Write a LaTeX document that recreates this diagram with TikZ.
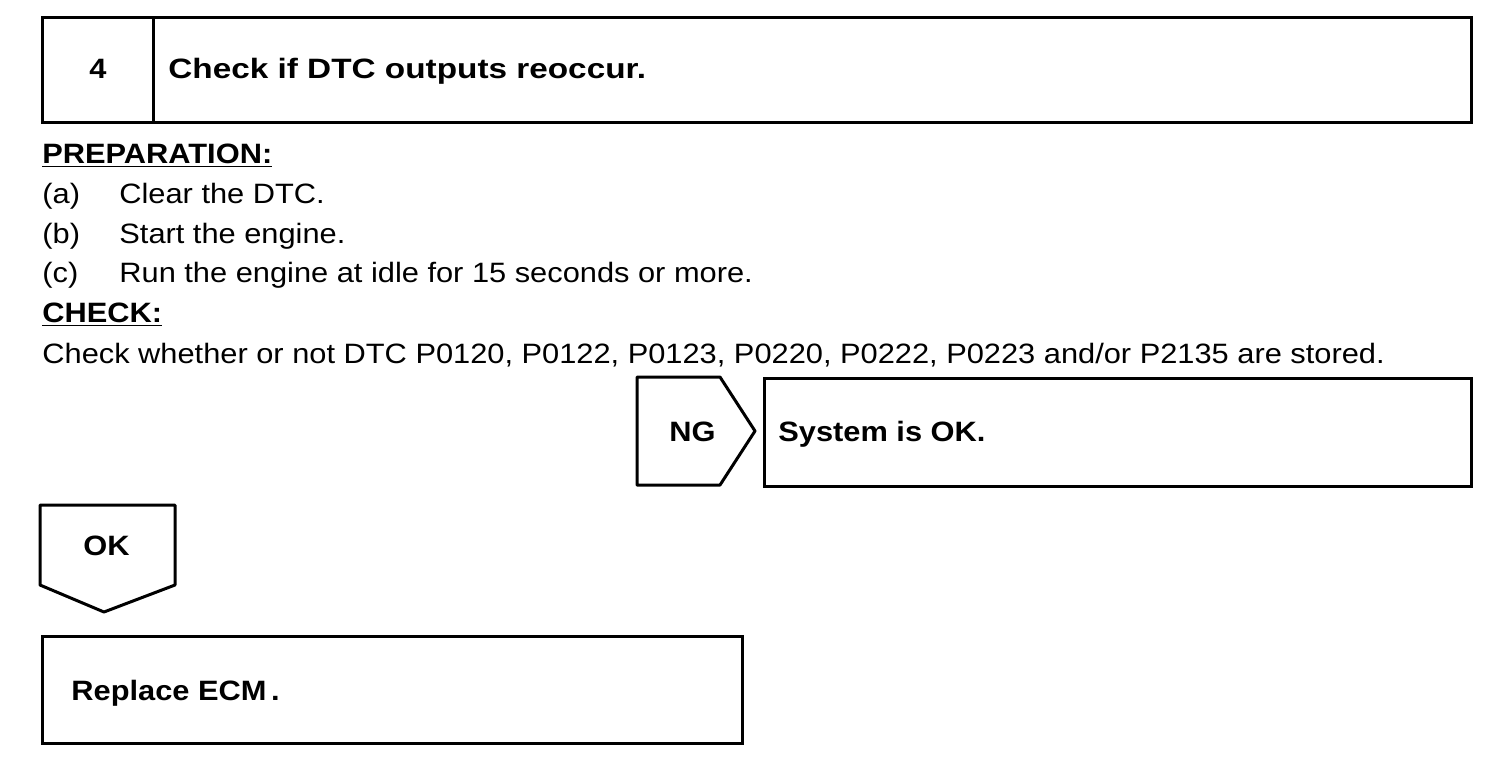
\documentclass[tikz,border=0pt]{standalone}
\usepackage{fontspec}
\setmainfont{Liberation Sans}[FakeStretch=1.1]
\newfontfamily\titlefont{Liberation Sans}[FakeStretch=1.19]
\usetikzlibrary{positioning}

\begin{document}
\begin{tikzpicture}[x=0.5pt,y=-0.5pt,
  frame/.style={draw,line width=1.5pt,inner sep=0pt,anchor=north west},
  head/.style={font=\bfseries\fontsize{14}{16}\selectfont,anchor=base west,inner sep=0pt},
  body/.style={font=\fontsize{14}{16}\selectfont,anchor=base west,inner sep=0pt}]
\useasboundingbox (0,0) rectangle (1504,768);
% step header
\node[frame,minimum width=714.5pt,minimum height=52.5pt] (stepbox) at (41,16) {};
\draw[line width=1.5pt] (153,16) -- (153,121);
\node[head,anchor=base] (stepno) at (98,78) {4};
\node[head,font=\titlefont\bfseries\fontsize{14}{16}\selectfont] (steptitle) at (168,78) {Check if DTC outputs reoccur.};
% preparation and check
\node[head] (prep) at (42,163) {\underline{PREPARATION:}};
\foreach \y/\l/\t in {203/a/Clear the DTC.,243/b/Start the engine.,282/c/Run the engine at idle for 15 seconds or more.} {
  \node[body] (item\l) at (42,\y) {(\l)};
  \node[body] (text\l) at (119,\y) {\t};
}
\node[head] (check) at (42,322) {\underline{CHECK:}};
\node[body] (checktext) at (42,363) {Check whether or not DTC P0120, P0122, P0123, P0220, P0222, P0223 and/or P2135 are stored.};
% NG branch
\draw[line width=1.5pt,line join=round] (637,377) -- (720,377) -- (755,431) -- (720,485) -- (637,485) -- cycle;
\node[head] (ng) at (669,441) {NG};
\node[frame,minimum width=353.5pt,minimum height=54pt] (okbox) at (763,377) {};
\node[head] (oktext) at (778,441) {System is OK.};
% OK branch
\draw[line width=1.5pt,line join=round] (40,505) -- (175,505) -- (175,585) -- (104,612) -- (40,585) -- cycle;
\node[head] (ok) at (83,555) {OK};
\node[frame,minimum width=350pt,minimum height=53.5pt] (ecmbox) at (41,635) {};
\node[head] (ecmtext) at (71,700) {Replace ECM\,.};
\end{tikzpicture}
\end{document}
